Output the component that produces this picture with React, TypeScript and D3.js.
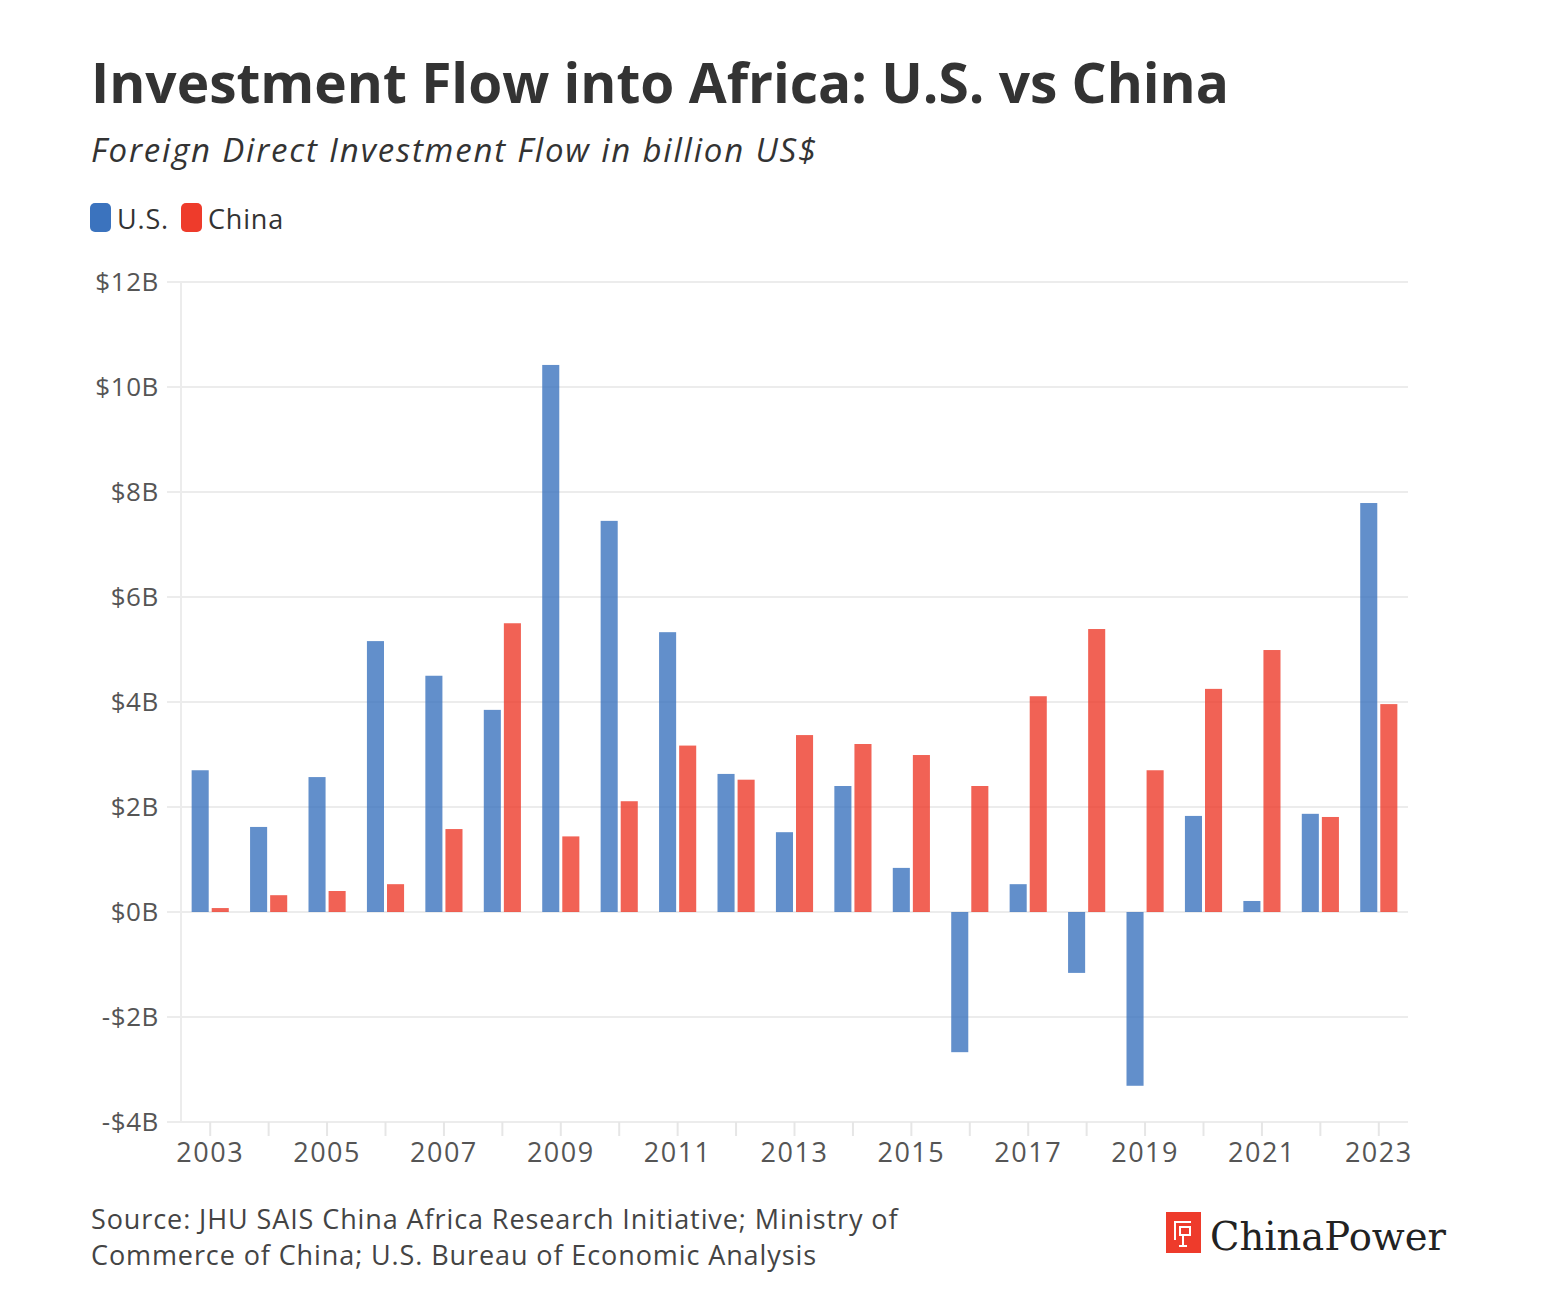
import { useEffect, useRef } from 'react';
import * as d3 from 'd3';

// Foreign direct investment flow into Africa, billion US$
const years = [
  '2003', '2004', '2005', '2006', '2007', '2008', '2009', '2010', '2011', '2012', '2013',
  '2014', '2015', '2016', '2017', '2018', '2019', '2020', '2021', '2022', '2023',
];
const usValues = [
  2.70, 1.62, 2.57, 5.16, 4.50, 3.85, 10.42, 7.45, 5.33, 2.63, 1.52,
  2.40, 0.84, -2.67, 0.53, -1.16, -3.31, 1.83, 0.21, 1.87, 7.79,
];
const chinaValues = [
  0.075, 0.32, 0.40, 0.53, 1.58, 5.50, 1.44, 2.11, 3.17, 2.52, 3.37,
  3.20, 2.99, 2.40, 4.11, 5.39, 2.70, 4.25, 4.99, 1.81, 3.96,
];
const yTicks = [-4, -2, 0, 2, 4, 6, 8, 10, 12];
const seriesNames = ['U.S.', 'China'];
const seriesColors = ['#3b73be', '#ee3b2b'];

const WIDTH = 1560;
const HEIGHT = 1308;
const FONT = "'Open Sans', 'Noto Sans', sans-serif";

const App = () => {
  const svgRef = useRef<SVGSVGElement>(null);

  useEffect(() => {
    if (!svgRef.current) return;
    const svg = d3.select(svgRef.current);
    svg.selectAll('*').remove();

    const margin = { top: 282, right: 152, bottom: 186, left: 181 };
    const innerWidth = WIDTH - margin.left - margin.right;
    const innerHeight = HEIGHT - margin.top - margin.bottom;

    // Title block
    svg.append('text')
      .attr('x', 91).attr('y', 103)
      .style('font-family', FONT).style('font-size', '55px').style('font-weight', 700)
      .attr('fill', '#333')
      .text('Investment Flow into Africa: U.S. vs China');

    svg.append('text')
      .attr('x', 91).attr('y', 162)
      .style('font-family', FONT).style('font-size', '33px').style('font-style', 'italic')
      .style('letter-spacing', '1.8px')
      .attr('fill', '#333')
      .text('Foreign Direct Investment Flow in billion US$');

    // Legend
    const legend = svg.append('g').attr('transform', 'translate(90,203)');
    const legendX = [0, 91];
    seriesNames.forEach((name, i) => {
      legend.append('rect')
        .attr('x', legendX[i]).attr('y', 0)
        .attr('width', 21).attr('height', 29).attr('rx', 5)
        .attr('fill', seriesColors[i]);
      legend.append('text')
        .attr('x', legendX[i] + 27).attr('y', 26)
        .style('font-family', FONT).style('font-size', '27px')
        .style('letter-spacing', '0.8px')
        .attr('fill', '#333')
        .text(name);
    });

    const g = svg.append('g').attr('transform', `translate(${margin.left},${margin.top})`);

    const x = d3.scaleBand().domain(years).range([0, innerWidth]).padding(0);
    const xSub = d3.scaleBand()
      .domain(seriesNames)
      .range([0, x.bandwidth()])
      .paddingInner(0.15)
      .paddingOuter(0.53);
    const y = d3.scaleLinear().domain([-4, 12]).range([innerHeight, 0]);

    // Gridlines
    g.selectAll('.grid')
      .data(yTicks)
      .enter()
      .append('line')
      .attr('x1', -14).attr('x2', innerWidth)
      .attr('y1', d => y(d)).attr('y2', d => y(d))
      .attr('stroke', '#ececec').attr('stroke-width', 2);

    // Y axis line
    g.append('line')
      .attr('x1', 0).attr('x2', 0)
      .attr('y1', 0).attr('y2', innerHeight)
      .attr('stroke', '#ececec').attr('stroke-width', 2);

    // Y labels
    g.selectAll('.ylabel')
      .data(yTicks)
      .enter()
      .append('text')
      .attr('x', -22).attr('y', d => y(d) + 9)
      .attr('text-anchor', 'end')
      .style('font-family', FONT).style('font-size', '26px')
      .style('letter-spacing', '0.6px')
      .attr('fill', '#555')
      .text(d => (d < 0 ? `-$${Math.abs(d)}B` : `$${d}B`));

    // X axis ticks + labels
    const xAxis = g.append('g').attr('transform', `translate(0,${innerHeight})`);
    xAxis.selectAll('line')
      .data(years)
      .enter()
      .append('line')
      .attr('x1', d => (x(d) as number) + x.bandwidth() / 2)
      .attr('x2', d => (x(d) as number) + x.bandwidth() / 2)
      .attr('y1', 0).attr('y2', 14)
      .attr('stroke', '#e6e6e6').attr('stroke-width', 2);
    xAxis.selectAll('text')
      .data(years.filter((_, i) => i % 2 === 0))
      .enter()
      .append('text')
      .attr('x', d => (x(d) as number) + x.bandwidth() / 2)
      .attr('y', 40)
      .attr('text-anchor', 'middle')
      .style('font-family', FONT).style('font-size', '27px')
      .style('letter-spacing', '1.5px')
      .attr('fill', '#555')
      .text(d => d);

    // Bars
    const seriesValues = [usValues, chinaValues];
    seriesNames.forEach((name, si) => {
      g.selectAll(`.bar-${si}`)
        .data(years)
        .enter()
        .append('rect')
        .attr('x', d => (x(d) as number) + (xSub(name) as number))
        .attr('width', xSub.bandwidth())
        .attr('y', (_, i) => y(Math.max(0, seriesValues[si][i])))
        .attr('height', (_, i) => Math.abs(y(seriesValues[si][i]) - y(0)))
        .attr('fill', seriesColors[si])
        .attr('fill-opacity', 0.8);
    });

    // Source
    const source = svg.append('text')
      .attr('x', 91).attr('y', 1229)
      .style('font-family', FONT).style('font-size', '27px')
      .style('letter-spacing', '0.9px')
      .attr('fill', '#444');
    source.append('tspan').attr('x', 91).text('Source: JHU SAIS China Africa Research Initiative; Ministry of');
    source.append('tspan').attr('x', 91).attr('dy', 36).text('Commerce of China; U.S. Bureau of Economic Analysis');

    // ChinaPower logo
    const logo = svg.append('g').attr('transform', 'translate(1166,1212)');
    logo.append('rect').attr('width', 35).attr('height', 41).attr('fill', '#ee3b2b');
    const icon = d3.path();
    icon.moveTo(25, 10); icon.lineTo(9, 10); icon.lineTo(9, 28);
    icon.moveTo(14, 15); icon.lineTo(24, 15); icon.lineTo(24, 23); icon.lineTo(14, 23); icon.closePath();
    icon.moveTo(17, 23); icon.lineTo(17, 34);
    icon.moveTo(13, 34); icon.lineTo(21, 34);
    logo.append('path').attr('d', icon.toString())
      .attr('fill', 'none').attr('stroke', '#fff').attr('stroke-width', 2);
    svg.append('text')
      .attr('x', 1210).attr('y', 1250)
      .style('font-family', "'DejaVu Serif', 'Liberation Serif', serif").style('font-size', '38.5px')
      .attr('fill', '#222')
      .text('ChinaPower');
  }, []);

  return (
    <div style={{ position: 'absolute', left: 0, top: 0, background: '#fff' }}>
      <svg ref={svgRef} width={WIDTH} height={HEIGHT} style={{ display: 'block' }} />
    </div>
  );
};

export default App;
